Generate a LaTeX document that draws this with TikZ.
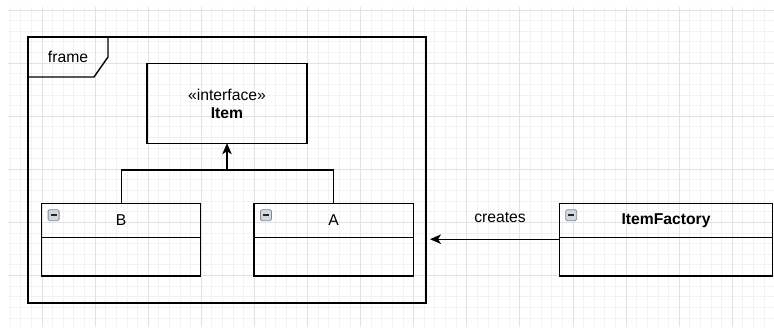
\documentclass[tikz,border=0pt]{standalone}
\usepackage{fontspec}
\setmainfont{Liberation Sans}
\usetikzlibrary{arrows.meta}
\definecolor{gridminor}{HTML}{F2F2F2}
\definecolor{gridmajor}{HTML}{E2E2E2}
\definecolor{togglefill}{HTML}{D3D8DE}
\definecolor{toggledraw}{HTML}{7D8B9B}

\begin{document}
\begin{tikzpicture}[x=1pt, y=-1pt,
    every node/.style={font=\fontsize{15.7}{18}\selectfont, inner sep=0pt},
    box/.style={rectangle, draw=black, line width=1.4pt, outer sep=0pt},
    toggle/.style={rectangle, rounded corners=1.5pt, draw=toggledraw, fill=togglefill,
      minimum size=11pt, line width=0.8pt, anchor=north west,
      path picture={\draw[line width=1.6pt, black!85]
        ([xshift=2.5pt]path picture bounding box.west) -- ([xshift=-2.5pt]path picture bounding box.east);}},
    conn/.style={line width=1.3pt},
    tip/.style={-{Stealth[length=11pt, width=9.5pt, inset=3pt]}}]
  \useasboundingbox (0,0) rectangle (774,327);

  % background grid
  \begin{scope}
    \clip (8,7) rectangle (774,327);
    \foreach \i in {0,...,72}
      \draw[gridminor, line width=0.9pt] ({10.14+\i*10.62},7) -- ++(0,320);
    \foreach \j in {0,...,30}
      \draw[gridminor, line width=0.9pt] (8,{10+\j*10.62}) -- ++(766,0);
    \foreach \i in {0,...,13}
      \draw[gridmajor, line width=1pt] ({42+\i*53.1},7) -- ++(0,320);
    \foreach \j in {0,...,5}
      \draw[gridmajor, line width=1pt] (8,{10+\j*53.1}) -- ++(766,0);
  \end{scope}

  % frame with its name tab
  \node[box, minimum width=398pt, minimum height=266pt] (frame) at (227,170) {};
  \draw[line width=1.4pt] ([xshift=80pt]frame.north west) -- ++(0,20) -- ++(-14,20) -- ([yshift=-40pt]frame.north west);
  \node (framelbl) at (68,57) {frame};

  \node[box, minimum width=160pt, minimum height=79.5pt, align=center] (item) at (227,103.5) {«interface»\\\textbf{Item}};

  \node[box, minimum width=159pt, minimum height=34.4pt] (b) at (121.2,220.5) {B};
  \node[box, minimum width=159pt, minimum height=38.3pt, anchor=north] (bbody) at (b.south) {};
  \node[toggle] (btoggle) at ([shift={(6pt,-6pt)}]b.north west) {};

  \node[box, minimum width=159.3pt, minimum height=34.4pt] (a) at (333.7,220.5) {A};
  \node[box, minimum width=159.3pt, minimum height=38.3pt, anchor=north] (abody) at (a.south) {};
  \node[toggle] (atoggle) at ([shift={(6pt,-6pt)}]a.north west) {};

  \node[box, minimum width=213.4pt, minimum height=34.4pt] (factory) at (666,220.5) {\textbf{ItemFactory}};
  \node[box, minimum width=213.4pt, minimum height=38.3pt, anchor=north] (factorybody) at (factory.south) {};
  \node[toggle] (factorytoggle) at ([shift={(6pt,-6pt)}]factory.north west) {};

  \coordinate (join) at (227,170);
  \coordinate (createsstart) at ([yshift=-1.5pt]factory.south west);
  \draw[conn] (a.north) |- (join);
  \draw[conn, tip] (b.north) |- (join) -- (item.south);
  \draw[conn, tip, shorten >=4pt] (createsstart) -- (frame.east |- createsstart);
  \node (createslbl) at (500,217) {creates};
\end{tikzpicture}
\end{document}
